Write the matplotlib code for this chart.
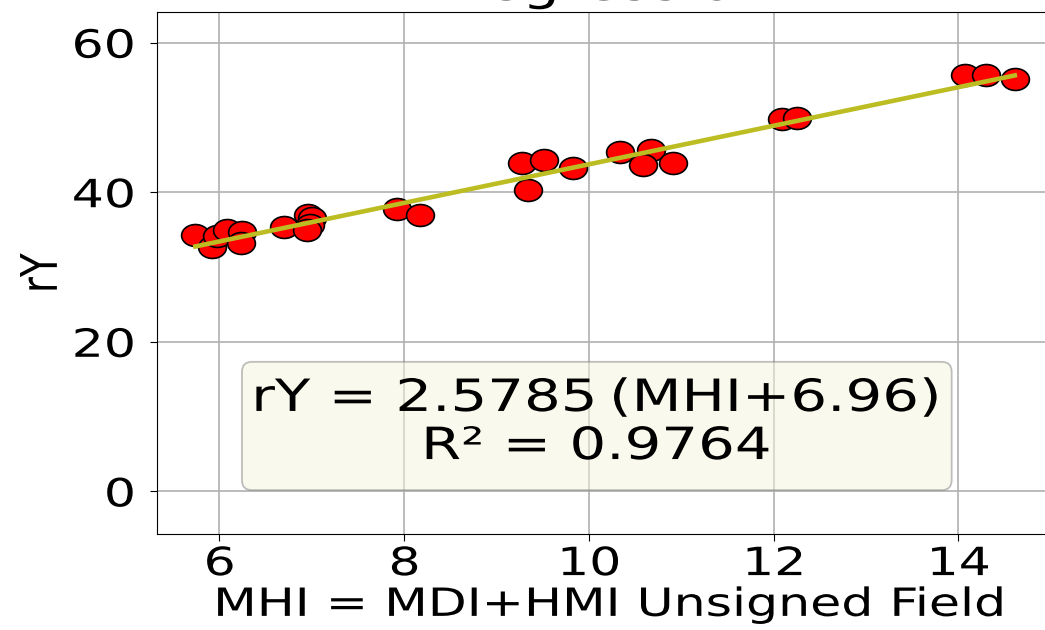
import numpy as np
import matplotlib
matplotlib.use("Agg")
import matplotlib.pyplot as plt
from matplotlib.path import Path
from matplotlib.patches import FancyBboxPatch
from matplotlib.patheffects import AbstractPathEffect
from matplotlib.transforms import Affine2D

# MHI (MDI+HMI unsigned field) against rY
mhi = [5.74, 5.92, 5.97, 6.08, 6.25, 6.23, 6.70, 6.96, 7.00, 6.98, 6.95,
       7.92, 8.17, 9.28, 9.34, 9.51, 9.83, 10.34, 10.67, 10.59, 10.91,
       12.09, 12.25, 14.07, 14.30, 14.61]
ry = [34.3, 32.7, 34.1, 35.0, 34.7, 33.2, 35.4, 37.0, 36.5, 35.6, 35.0,
      37.7, 37.0, 43.9, 40.3, 44.3, 43.2, 45.4, 45.6, 43.6, 43.9,
      49.8, 49.9, 55.7, 55.7, 55.2]
# fit: rY = slope * (MHI + offset)
slope = 2.5785
offset = 6.96
r2 = 0.9764
xticks = [6, 8, 10, 12, 14]
yticks = [0, 20, 40, 60]

# The reference looks like it was stretched sideways by ~1.3,
# so text glyphs are widened around an anchor when drawn.
SX = 1.3


class Widen(AbstractPathEffect):
    def __init__(self, sx=SX, anchor=0.5):
        super().__init__()
        self.sx = sx
        self.anchor = anchor

    def draw_path(self, renderer, gc, tpath, affine, rgbFace=None):
        if len(tpath.vertices) == 0:
            return
        xs = affine.transform(tpath.vertices)[:, 0]
        x0 = xs.min() + self.anchor * (xs.max() - xs.min())
        tr = affine + Affine2D().translate(-x0, 0).scale(self.sx, 1).translate(x0, 0)
        renderer.draw_path(gc, tpath, tr, rgbFace)


# ellipse marker (wider than tall, like the stretched picture)
circ = Path.unit_circle()
ellipse = Path(circ.vertices * [1.0, 0.79], circ.codes)

plt.rcParams['font.family'] = 'DejaVu Sans'

fig = plt.figure(figsize=(10.45, 6.3), dpi=100)
ax = fig.add_axes([0.1507, 0.1524, 0.8646, 0.8281])

x = np.array(mhi)
y = np.array(ry)
ax.scatter(x, y, s=400, marker=ellipse, c='red', edgecolors='black',
           linewidths=1.2, zorder=3)
xl = np.array([x.min(), x.max()])
ax.plot(xl, slope * (xl + offset), color='#bcbd22', lw=3.3, zorder=4)

ax.set_xlim(5.33, 15.11)
ax.set_ylim(-5.7, 64.06)
ax.set_xticks(xticks)
ax.set_yticks(yticks)
ax.grid(True, color='#b0b0b0', lw=1.2)
ax.tick_params(labelsize=28, length=5)
ax.tick_params(axis='x', pad=3)
ax.tick_params(axis='y', pad=11)

ax.set_xlabel('MHI = MDI+HMI Unsigned Field', fontsize=28, labelpad=2)
ax.set_ylabel('rY', fontsize=28, labelpad=18)
ax.set_title('Regression', fontsize=33, pad=9)

box = FancyBboxPatch((0.0935, 0.084), 0.7855, 0.246,
                     boxstyle='round,pad=0,rounding_size=0.011',
                     mutation_aspect=1.73, transform=ax.transAxes,
                     facecolor='beige', edgecolor='gray', lw=1.3,
                     alpha=0.5, zorder=2)
ax.add_patch(box)
ax.text(0.4853, 0.2137,
        f'rY = {slope:.4f}\u2009(MHI+{offset:.2f})\nR\u00b2 = {r2:.4f}',
        transform=ax.transAxes, ha='center', va='center',
        multialignment='center', fontsize=32, linespacing=1.15, zorder=5,
        path_effects=[Widen()])

for lab in ax.get_xticklabels():
    lab.set_path_effects([Widen()])
for lab in ax.get_yticklabels():
    lab.set_path_effects([Widen(anchor=1.0)])
ax.xaxis.label.set_path_effects([Widen()])
ax.yaxis.label.set_path_effects([Widen()])
ax.title.set_path_effects([Widen()])

fig.savefig('out.png', dpi=100)
